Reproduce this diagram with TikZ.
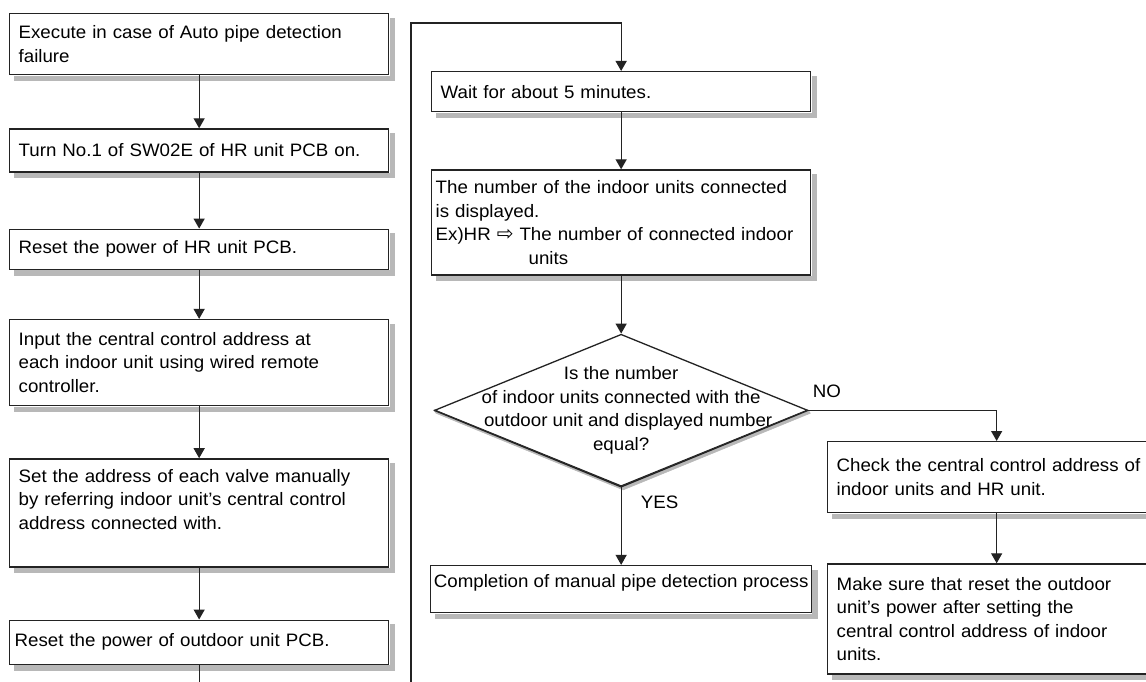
\documentclass[tikz,border=0pt]{standalone}
\usepackage{fontspec}
\setmainfont{Liberation Sans}[FakeStretch=1.04]
\newfontfamily\arrowfont{DejaVu Sans}
\usepackage{tikz}
\usetikzlibrary{arrows.meta}
\usetikzlibrary{positioning, shapes.geometric, calc}

\definecolor{linegray}{RGB}{35,35,35}
\colorlet{shadowgray}{black!28}
\newcommand{\flowfont}{\fontsize{18}{23.5}\selectfont}

\tikzset{
  stepbox/.style={draw=linegray, line width=1.3pt, fill=white,
    inner xsep=9pt, inner ysep=3pt, text width=361pt, align=left, font=\flowfont},
  decision/.style={diamond, draw=linegray, line width=1.3pt, fill=white, inner sep=0pt,
    minimum width=373pt, minimum height=152pt},
  flow/.style={draw=linegray, line width=1.3pt, -{Triangle[width=11pt,length=10pt]}},
  answer/.style={font=\flowfont, inner sep=0pt},
  shadowstrip/.style={fill=shadowgray, draw=shadowgray, line width=0.5pt},
}

\begin{document}
\begin{tikzpicture}[x=1pt, y=1pt]
  \fill[white] (0,0) rectangle (1146,-682);
  \path[use as bounding box, clip] (0,0) rectangle (1146,-682);

  % left column: manual setting steps
  \node[stepbox, minimum height=61pt, anchor=north west] (exec) at (9,-13)
    {Execute in case of Auto pipe detection\\failure};
  \node[stepbox, minimum height=43pt, below=53pt of exec] (sw)
    {Turn No.1 of SW02E of HR unit PCB on.};
  \node[stepbox, minimum height=40pt, below=56pt of sw] (hrreset)
    {Reset the power of HR unit PCB.};
  \node[stepbox, minimum height=86pt, below=49pt of hrreset] (addr)
    {Input the central control address at\\each indoor unit using wired remote\\controller.};
  \node[stepbox, minimum height=108pt, below=52pt of addr] (valve)
    {Set the address of each valve manually\\by referring indoor unit’s central control\\address connected with.\\[4pt]\mbox{}};
  \node[stepbox, minimum height=44pt, inner xsep=5pt, text width=369pt, below=52pt of valve] (odreset)
    {Reset the power of outdoor unit PCB.};

  % middle column: wait and check the count
  \node[stepbox, minimum height=40pt, anchor=north west] (wait) at (431,-71)
    {Wait for about 5 minutes.};
  \node[stepbox, minimum height=105pt, inner xsep=4pt, text width=371pt, below=57pt of wait] (count)
    {The number of the indoor units connected\\is displayed.\\Ex)HR {\arrowfont\fontsize{20}{23.5}\selectfont ⇨} The number of connected indoor\\\hspace*{93pt}units};
  \node[decision, below=58pt of count] (equal) {};
  \node[stepbox, minimum height=47pt, text width=, text depth=16pt, minimum width=379pt, inner xsep=3pt, below=78pt of equal] (done)
    {Completion of manual pipe detection process};

  % right column: NO branch
  \node[stepbox, minimum height=71pt, text width=320pt, anchor=north west] (check) at (827,-441)
    {Check the central control address of\\indoor units and HR unit.};
  \node[stepbox, minimum height=110pt, text width=320pt, below=50pt of check] (sure)
    {Make sure that reset the outdoor\\unit’s power after setting the\\central control address of indoor\\units.};

  % grey shadow strips on the right and bottom of the boxes
  \foreach \n in {exec,sw,hrreset,addr,valve,odreset,wait,count,done,check,sure}{
    \fill[shadowstrip] ($(\n.north east)+(0.6,-5)$) rectangle ($(\n.south east)+(5,-5)$);
    \fill[shadowstrip] ($(\n.south west)+(5,-0.6)$) rectangle ($(\n.south east)+(5,-5)$);
  }
  \fill[shadowstrip] (equal.west) -- (equal.south) -- (equal.east)
    -- ($(equal.east)+(2,-3)$) -- ($(equal.south)+(2,-3)$) -- ($(equal.west)+(2,-3)$) -- cycle;
  \draw[draw=linegray, line width=1.3pt] (equal.west) -- (equal.south) -- (equal.east);

  \node[font=\flowfont, align=center, inner sep=0pt] (equaltext) at (equal.center)
    {Is the number\\of indoor units connected with the\\\hspace*{14pt}outdoor unit and displayed number\\equal?};

  % connectors
  \draw[flow] (exec) -- (sw);
  \draw[flow] (sw) -- (hrreset);
  \draw[flow] (hrreset) -- (addr);
  \draw[flow] (addr) -- (valve);
  \draw[flow] (valve) -- (odreset);
  \draw[flow] (odreset.south) -- (odreset.south |- 0,-700) -| (411,-23) -| (wait.north);
  \draw[flow] (wait) -- (count);
  \draw[flow] (count) -- (equal);
  \draw[flow] (equal.south) -- node[answer, pos=0.2, anchor=west, xshift=19pt] {YES} (done.north);
  \draw[flow] (equal.east) -| node[answer, pos=0, anchor=south west, xshift=4pt, yshift=12pt] {NO} (check.north);
  \draw[flow] (check) -- (sure);
\end{tikzpicture}
\end{document}
